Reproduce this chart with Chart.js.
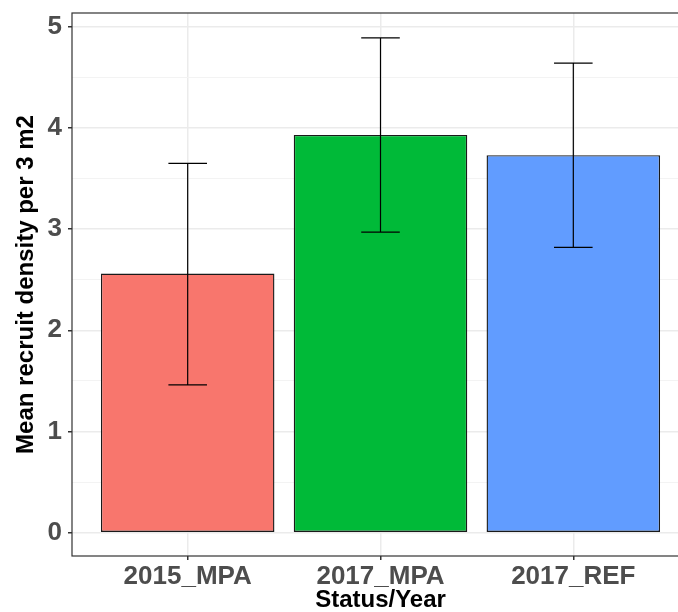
<!DOCTYPE html>
<html>
<head>
<meta charset="utf-8">
<script src="https://cdn.jsdelivr.net/npm/chart.js@4.4.1/dist/chart.umd.min.js"></script>
<style>
  html, body { margin: 0; padding: 0; background: #fff; overflow: hidden; }
  #wrap { width: 690px; height: 612px; }
</style>
</head>
<body>
<div id="wrap"><canvas id="recruitChart" width="690" height="612"></canvas></div>
<script>
// ==========================
// DATA
// ==========================

const categories = ['2015_MPA', '2017_MPA', '2017_REF'];
const means = [2.56, 3.93, 3.73];
const upper = [3.65, 4.89, 4.64];
const lower = [1.46, 2.97, 2.82];
const barColors = ['#F8766D', '#00BA38', '#619CFF'];
const yTickLabels = [0, 1, 2, 3, 4, 5];

// ==========================
// PLUGINS
// ==========================

// error bars (ggplot geom_errorbar, width 0.2)
const errorBars = {
    id: 'errorBars',
    afterDatasetsDraw(chart) {
        const ctx = chart.ctx;
        const xs = chart.scales.x;
        const ys = chart.scales.y;
        ctx.save();
        ctx.strokeStyle = '#000';
        ctx.lineWidth = 1.2;
        categories.forEach((c, i) => {
            const x = xs.getPixelForValue(i + 1);
            const half = xs.getPixelForValue(i + 1.1) - x;
            const yHi = ys.getPixelForValue(upper[i]);
            const yLo = ys.getPixelForValue(lower[i]);
            ctx.beginPath();
            ctx.moveTo(x, yHi);
            ctx.lineTo(x, yLo);
            ctx.moveTo(x - half, yHi);
            ctx.lineTo(x + half, yHi);
            ctx.moveTo(x - half, yLo);
            ctx.lineTo(x + half, yLo);
            ctx.stroke();
        });
        ctx.restore();
    }
};

// panel border (theme_bw)
const panelBorder = {
    id: 'panelBorder',
    afterDraw(chart) {
        const a = chart.chartArea;
        const ctx = chart.ctx;
        ctx.save();
        ctx.strokeStyle = '#333333';
        ctx.lineWidth = 1.2;
        ctx.strokeRect(a.left, a.top, a.right - a.left, a.bottom - a.top);
        ctx.restore();
    }
};

// ==========================
// GRAFICO DE BARRAS
// ==========================

const ctx = document.getElementById('recruitChart');

new Chart(ctx, {

    type: 'bar',

    data: {
        datasets: [{
            data: means.map((m, i) => ({ x: i + 1, y: m })),
            backgroundColor: barColors,
            borderColor: '#1a1a1a',
            borderWidth: 1.4,
            borderSkipped: false,
            barPercentage: 0.9,
            categoryPercentage: 1
        }]
    },

    options: {
        responsive: false,
        animation: false,
        layout: { padding: { top: 13, right: 1, left: 0, bottom: 0 } },
        plugins: {
            legend: { display: false },
            tooltip: { enabled: false }
        },
        scales: {
            x: {
                type: 'linear',
                min: 0.4,
                max: 3.6,
                offset: false,
                afterFit(scale) { scale.height = 56; },
                border: { display: false },
                grid: {
                    offset: false,
                    color: '#ebebeb',
                    lineWidth: 1.5,
                    tickColor: '#333333',
                    tickLength: 4
                },
                ticks: {
                    stepSize: 1,
                    includeBounds: false,
                    autoSkip: false,
                    maxRotation: 0,
                    padding: 4,
                    color: '#4d4d4d',
                    font: { family: 'Liberation Sans, Arial, sans-serif', size: 26, weight: 'bold', lineHeight: 1 },
                    callback: (v) => categories[v - 1] || ''
                },
                title: {
                    display: true,
                    text: 'Status/Year',
                    color: '#000',
                    padding: { top: 0, bottom: 0 },
                    font: { family: 'Liberation Sans, Arial, sans-serif', size: 24, weight: 'bold', lineHeight: 1 }
                }
            },
            y: {
                min: -0.23,
                max: 5.135,
                afterFit(scale) {
                    scale.width = 72;
                    scale.paddingTop = 0;
                    scale.paddingBottom = 0;
                },
                border: { display: false },
                grid: {
                    color: (c) => yTickLabels.includes(c.tick && c.tick.value) ? '#ebebeb' : '#f3f3f3',
                    lineWidth: (c) => yTickLabels.includes(c.tick && c.tick.value) ? 1.5 : 1,
                    tickColor: (c) => yTickLabels.includes(c.tick && c.tick.value) ? '#333333' : 'rgba(0,0,0,0)',
                    tickLength: 4
                },
                ticks: {
                    stepSize: 0.5,
                    includeBounds: false,
                    padding: 6,
                    color: '#4d4d4d',
                    font: { family: 'Liberation Sans, Arial, sans-serif', size: 26, weight: 'bold', lineHeight: 0.5 },
                    callback: (v) => yTickLabels.includes(v) ? String(v) : ''
                },
                title: {
                    display: true,
                    text: 'Mean recruit density per 3 m2',
                    color: '#000',
                    padding: { top: 14, bottom: 0 },
                    font: { family: 'Liberation Sans, Arial, sans-serif', size: 24, weight: 'bold', lineHeight: 1 }
                }
            }
        }
    },

    plugins: [errorBars, panelBorder]

});
</script>
</body>
</html>
